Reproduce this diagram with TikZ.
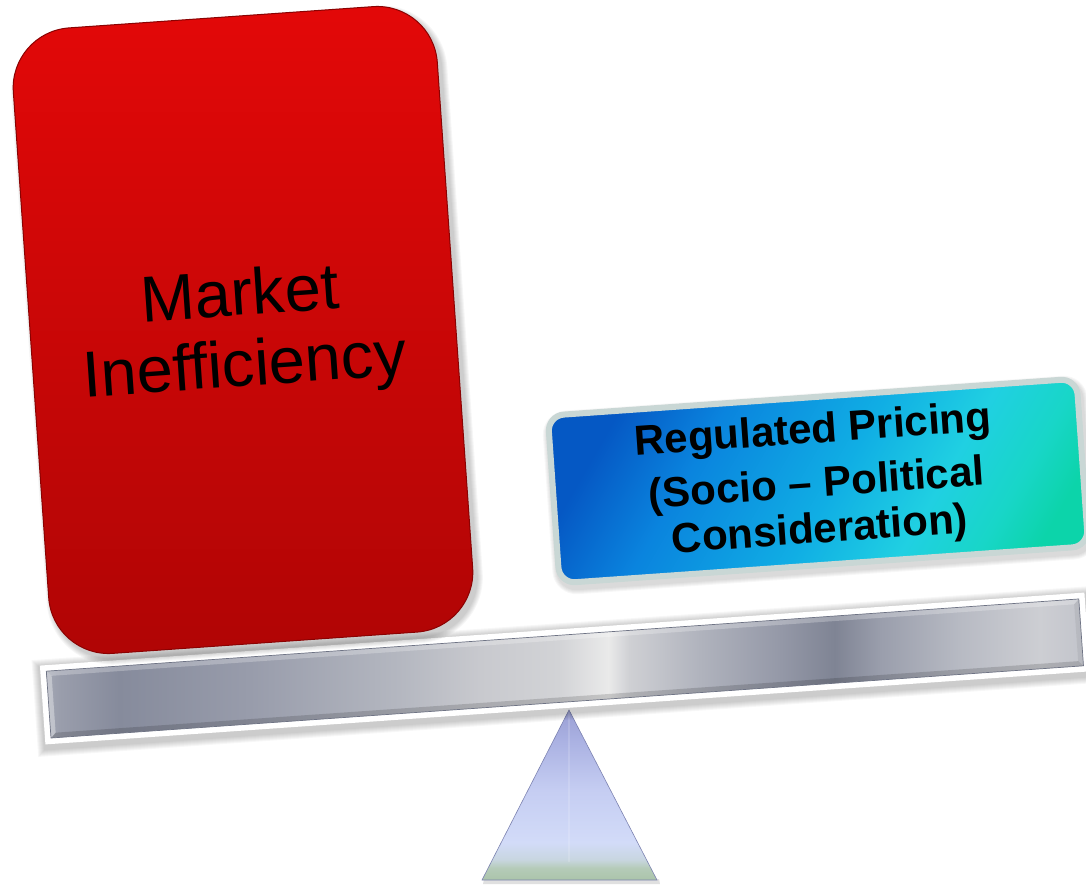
\documentclass[tikz,border=0pt]{standalone}
\usepackage{fontspec}
\setmainfont{Liberation Sans}
\definecolor{redtop}{HTML}{E30808}
\definecolor{redbot}{HTML}{B00505}
\definecolor{redline}{HTML}{8A0202}
\definecolor{blueline}{HTML}{C9D7D5}
\definecolor{beamline}{HTML}{6E7384}
\definecolor{triline}{HTML}{7C82B0}
% beam colours
\definecolor{bmA}{HTML}{A5A9B5}\definecolor{bmB}{HTML}{9A9EAC}\definecolor{bmC}{HTML}{868B9C}
\definecolor{bmD}{HTML}{989CAB}\definecolor{bmE}{HTML}{B4B7C0}\definecolor{bmF}{HTML}{C8C9CE}
\definecolor{bmG}{HTML}{D2D3D6}\definecolor{bmH}{HTML}{EAEAEA}\definecolor{bmI}{HTML}{CFD0D4}
\definecolor{bmJ}{HTML}{B0B3BD}\definecolor{bmK}{HTML}{9599A8}\definecolor{bmL}{HTML}{7F8494}
\definecolor{bmM}{HTML}{9A9EAC}\definecolor{bmN}{HTML}{B7BAC3}\definecolor{bmO}{HTML}{CDCED3}
\definecolor{bmP}{HTML}{C2C4CB}
% fulcrum colours
\definecolor{trA}{HTML}{AAC4AA}\definecolor{trB}{HTML}{B5CBB8}\definecolor{trC}{HTML}{C8D6E0}
\definecolor{trD}{HTML}{D2DBF8}\definecolor{trE}{HTML}{C5CDF2}\definecolor{trF}{HTML}{AAB1E2}
\definecolor{trG}{HTML}{9A9FD4}
% blue box colours
\definecolor{blA}{HTML}{0558C4}\definecolor{blB}{HTML}{0A84DE}\definecolor{blC}{HTML}{10AEE4}
\definecolor{blD}{HTML}{20D0E2}\definecolor{blE}{HTML}{18D6C8}\definecolor{blF}{HTML}{0CD4AA}
\pgfdeclarehorizontalshading{beamshade}{100bp}{
 color(0bp)=(bmA); color(25bp)=(bmA); color(25.6bp)=(bmB);
 color(28.5bp)=(bmC); color(34.8bp)=(bmD); color(42bp)=(bmE);
 color(45.9bp)=(bmF); color(49.7bp)=(bmG); color(52.1bp)=(bmH);
 color(53.1bp)=(bmI); color(56.5bp)=(bmJ); color(60.3bp)=(bmK);
 color(63bp)=(bmL); color(65.2bp)=(bmM); color(69bp)=(bmN);
 color(72.9bp)=(bmO); color(75bp)=(bmP); color(100bp)=(bmP)}
\pgfdeclareverticalshading{trishade}{100bp}{
 color(0bp)=(trA); color(25bp)=(trA); color(28.5bp)=(trB);
 color(31bp)=(trC); color(36bp)=(trD); color(51.5bp)=(trE);
 color(66.2bp)=(trF); color(75bp)=(trG); color(100bp)=(trG)}
\pgfdeclarehorizontalshading{blueshade}{100bp}{
 color(0bp)=(blA); color(25bp)=(blA); color(36bp)=(blB);
 color(52bp)=(blC); color(63bp)=(blD); color(71bp)=(blE);
 color(77bp)=(blF); color(100bp)=(blF)}
\tikzset{
 redbox/.style={rectangle, rounded corners=60, minimum width=425, minimum height=627,
   rotate=4, top color=redtop, bottom color=redbot, draw=redline, line width=1, inner sep=0},
 redshadow/.style={rectangle, rounded corners=60+#1, minimum width=425+2*#1,
   minimum height=627+2*#1, rotate=4, fill=black, opacity=0.035, inner sep=0},
 bluebox/.style={rectangle, rounded corners=16, minimum width=530, minimum height=168,
   rotate=4, shading=blueshade, shading angle=-30, draw=blueline, line width=6, inner sep=0},
 blueshadow/.style={rectangle, rounded corners=19+#1, minimum width=536+2*#1,
   minimum height=174+2*#1, rotate=4, fill=black, opacity=0.03, inner sep=0},
 bigtext/.style={rotate=4, align=center, font=\fontsize{65}{71}\selectfont},
 boldtext/.style={rotate=4, align=center, font=\fontsize{42}{46}\selectfont\bfseries}
}
\begin{document}
\begin{tikzpicture}[x=1pt,y=1pt]
\useasboundingbox (0,0) rectangle (1086,-885);
\clip (0,0) rectangle (1086,-885);
% fulcrum
\coordinate (apex) at (569,-710);
\coordinate (bl) at (482,-880);
\coordinate (br) at (657,-880);
\coordinate (basemid) at (569,-862);
\fill[black,opacity=0.12] (484,-879) -- (659,-879) -- (660,-884) -- (483,-884) -- cycle;
\shade[shading=trishade] (apex) -- (br) -- (bl) -- cycle;
\draw[white,opacity=0.15,line width=1.5] (apex) -- (basemid);
\draw[triline,line width=0.6] (apex) -- (br) -- (bl) -- cycle;
% beam
\begin{scope}[shift={(51,-738)},rotate=4]
 \foreach \k in {1,...,7}{
   \fill[black,opacity=0.03] (-7-\k,-11-\k) rectangle (1042+\k,72+\k);}
 \fill[white] (-6,-6) rectangle (1041,73);
 \shade[shading=beamshade] (0,0) rectangle (1035,67);
 \fill[white,opacity=0.25] (0,67) -- (1035,67) -- (1030,62) -- (5,62) -- cycle;
 \fill[black,opacity=0.15] (0,0) -- (1035,0) -- (1030,5) -- (5,5) -- cycle;
 \fill[white,opacity=0.35] (0,0) -- (5,5) -- (5,62) -- (0,67) -- cycle;
 \fill[black,opacity=0.06] (1035,0) -- (1030,5) -- (1030,62) -- (1035,67) -- cycle;
 \draw[beamline,line width=0.7] (0,0) rectangle (1035,67);
\end{scope}
% left box
\foreach \k in {1,...,6}{\node[redshadow=\k] at (247,-335) {};}
\node[redbox] (market) at (243,-330) {};
\node[bigtext] (markettext) at (242.5,-334) {Market\\Inefficiency};
% right box
\foreach \k in {1,...,5}{\node[blueshadow=\k] at (820,-485) {};}
\node[bluebox] (reg) at (818,-481) {};
\node[boldtext] (regtext) at (816.5,-482) {Regulated Pricing\\[8pt](Socio – Political\\Consideration)};
\end{tikzpicture}
\end{document}
